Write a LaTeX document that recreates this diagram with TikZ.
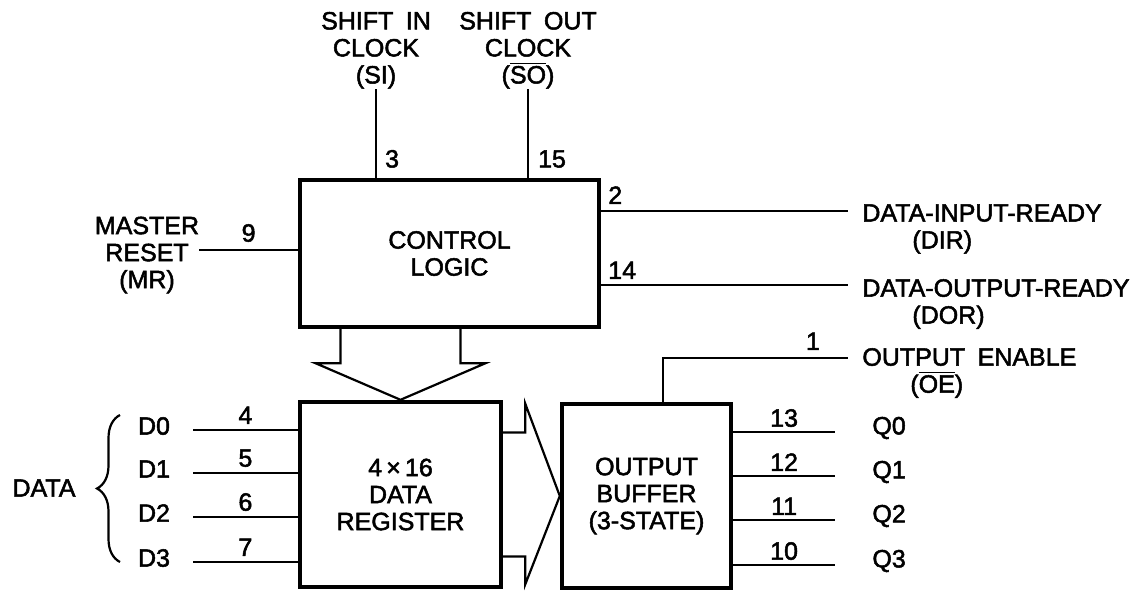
\documentclass[tikz,border=0pt]{standalone}
\usepackage{fontspec}
\setmainfont{Liberation Sans}[FakeBold=2]
\usetikzlibrary{calc,positioning,decorations.pathreplacing}

\begin{document}
\begin{tikzpicture}[x=0.5pt,y=-0.5pt,
    font=\fontsize{12.5}{13.5}\selectfont,
    blk/.style={draw,line width=2.2pt,align=center,inner sep=0pt},
    wire/.style={line width=1.1pt},
    lbl/.style={align=center,inner sep=0pt},
    sig/.style={align=left,anchor=west,inner sep=0pt},
    pinno/.style={inner sep=0pt}]
  \useasboundingbox (0,0) rectangle (1141,590);

  % blocks
  \node[blk,minimum width=149.5pt,minimum height=73.5pt] (ctrl) at (449.5,253.5) {CONTROL\\LOGIC};
  \node[blk,minimum width=100.5pt,minimum height=92.5pt] (reg) at (400.5,494.5) {4\,×\,16\\DATA\\REGISTER};
  \node[blk,minimum width=84.5pt,minimum height=92pt] (buf) at (646.5,496) {OUTPUT\\BUFFER\\(3-STATE)};

  % signal names
  \node[lbl,anchor=south] (si) at (376,89) {SHIFT\enspace IN\\CLOCK\\(SI)};
  \node[lbl,anchor=south] (so) at (528,89) {SHIFT\enspace OUT\\CLOCK\\($\overline{\mbox{SO}}$)};
  \node[lbl] (mr) at (147,255) {MASTER\\RESET\\(MR)};
  \node[sig] (dir) at (862,229) {DATA-INPUT-READY\\\hspace*{25pt}(DIR)};
  \node[sig] (dor) at (862,304) {DATA-OUTPUT-READY\\\hspace*{25pt}(DOR)};
  \node[sig] (oe) at (862,373) {OUTPUT\enspace ENABLE\\\hspace*{24pt}($\overline{\mbox{OE}}$)};
  \node (data) at (44,488) {DATA};

  % pins of the control logic
  \draw[wire] (si.south) -- (si.south |- ctrl.north) node[pinno,above right=4.5pt and 4pt] {3};
  \draw[wire] (so.south) -- (so.south |- ctrl.north) node[pinno,above right=4.5pt and 4.5pt] {15};
  \coordinate (mrend) at (mr.east |- 0,250);
  \draw[wire] (mrend) -- (mrend -| ctrl.west) node[midway,above=3.5pt,pinno] {9};
  \coordinate (dirend) at (848,211);
  \draw[wire] (dirend -| ctrl.east) node[pinno,above right=3pt and 3pt] {2} -- (dirend);
  \coordinate (dorend) at (848,285);
  \draw[wire] (dorend -| ctrl.east) node[pinno,above right=2.5pt and 3pt] {14} -- (dorend);

  % data inputs
  \foreach \i/\n/\y in {0/4/430,1/5/473,2/6/517,3/7/562}{
    \node (d\i) at (154,\y-4) {D\i};
    \coordinate (din\i) at (193,\y);
    \draw[wire] (din\i) -- (din\i -| reg.west) node[midway,above=2.5pt,pinno] {\n};
  }
  \draw[wire,decorate,decoration={brace,amplitude=11.5pt,aspect=0.5}] (120,562) -- (120,415);

  % outputs
  \foreach \i/\n/\y in {0/13/432,1/12/476,2/11/520,3/10/565}{
    \node[anchor=west,inner sep=0pt] (q\i) at (872,\y-4) {Q\i};
    \coordinate (qout\i) at (835,\y);
    \draw[wire] (qout\i -| buf.east) -- (qout\i) node[midway,above=2pt,pinno] {\n};
  }
  \coordinate (oeend) at (848,358);
  \draw[wire] ($(buf.north)+(16.5,0)$) |- (oeend) node[pinno,above left=3.5pt and 13.5pt] {1};

  % bus arrows
  \draw[wire] ($(reg.north |- ctrl.south)+(-60,0)$) -- ++(0,34) -- ++(-25,0) -- (reg.north)
    -- ($(reg.north |- ctrl.south)+(85,34)$) -- ++(-25,0) -- ++(0,-34);
  \draw[wire] ($(reg.east)+(0,-62)$) -- ++(22,0) -- ++(0,-29) -- (buf.west)
    -- ($(reg.east)+(22,90)$) -- ++(0,-28) -- ++(-22,0);
\end{tikzpicture}
\end{document}
